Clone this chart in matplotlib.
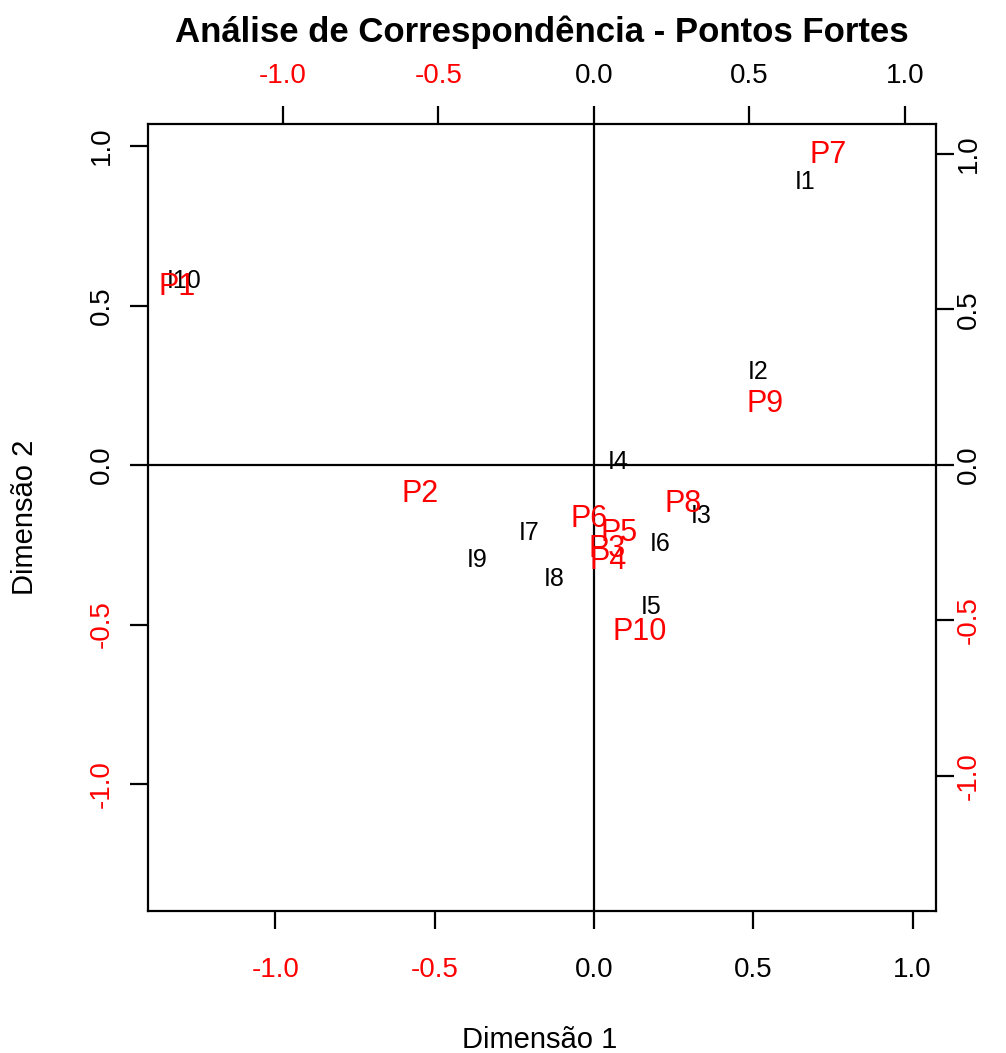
import matplotlib
matplotlib.use("Agg")
import matplotlib.pyplot as plt
import numpy as np

plt.rcParams['font.family'] = ['Liberation Sans', 'DejaVu Sans']

# row coordinates (black, bottom/left scale)
row_labels = ["I1", "I2", "I3", "I4", "I5", "I6", "I7", "I8", "I9", "I10"]
row_dim1 = [0.662, 0.515, 0.336, 0.075, 0.179, 0.207, -0.204, -0.126, -0.367, -1.287]
row_dim2 = [0.887, 0.292, -0.160, 0.009, -0.445, -0.248, -0.213, -0.357, -0.298, 0.577]

# column coordinates (red, top/right scale)
col_labels = ["P1", "P2", "P3", "P4", "P5", "P6", "P7", "P8", "P9", "P10"]
col_dim1 = [-1.341, -0.559, 0.042, 0.045, 0.080, -0.016, 0.752, 0.286, 0.550, 0.148]
col_dim2 = [0.572, -0.093, -0.270, -0.309, -0.219, -0.174, 0.997, -0.125, 0.196, -0.537]

ticks = [-1.0, -0.5, 0.0, 0.5, 1.0]
tick_text = ["-1.0", "-0.5", "0.0", "0.5", "1.0"]

W, H = 1006, 1053
fig = plt.figure(figsize=(W / 100, H / 100), dpi=100)
rect = [148 / W, (H - 911) / H, (936 - 148) / W, (911 - 124) / H]

ax = fig.add_axes(rect)
ax.set_xlim(-1.400, 1.0734)
ax.set_ylim(-1.398, 1.069)

ax2 = fig.add_axes(rect, frameon=False)
ax2.set_xlim(-1.434, 1.0997)
ax2.set_ylim(-1.434, 1.096)
ax2.patch.set_visible(False)
ax2.xaxis.tick_top()
ax2.yaxis.tick_right()

lw = 1.6
for s in ax.spines.values():
    s.set_linewidth(lw)

for a in (ax, ax2):
    a.set_xticks(ticks, tick_text)
    a.set_yticks(ticks, tick_text)
    a.tick_params(direction='out', length=13, width=lw, labelsize=20)
    a.tick_params(axis='y', labelrotation=90)
    for lab in a.get_yticklabels():
        lab.set_va('center')
    for axis in (a.xaxis, a.yaxis):
        for t, v in zip(axis.get_major_ticks(), ticks):
            c = 'red' if v < 0 else 'black'
            for ln in (t.tick1line, t.tick2line):
                ln.set_color(c)
            t.label1.set_color(c)
            t.label2.set_color(c)

ax.tick_params(axis='x', pad=20)
ax.tick_params(axis='y', pad=11)
ax2.tick_params(axis='x', pad=12)
ax2.tick_params(axis='y', pad=1)

ax.axhline(0, color='black', lw=lw)
ax.axvline(0, color='black', lw=lw)

for lab, x, y in zip(row_labels, row_dim1, row_dim2):
    ax.text(x, y, lab, color='black', fontsize=18, ha='center', va='center')
for lab, x, y in zip(col_labels, col_dim1, col_dim2):
    ax2.text(x, y, lab, color='red', fontsize=22, ha='center', va='center')

fig.text(542 / W, 1 - 32 / H, "Análise de Correspondência - Pontos Fortes",
         ha='center', va='center', fontsize=25, fontweight='bold')
fig.text(540 / W, 1 - 1040 / H, "Dimensão 1", ha='center', va='center', fontsize=21)
fig.text(25 / W, 1 - 517 / H, "Dimensão 2", ha='center', va='center',
         fontsize=21, rotation=90)

fig.savefig("out.png", dpi=100)
